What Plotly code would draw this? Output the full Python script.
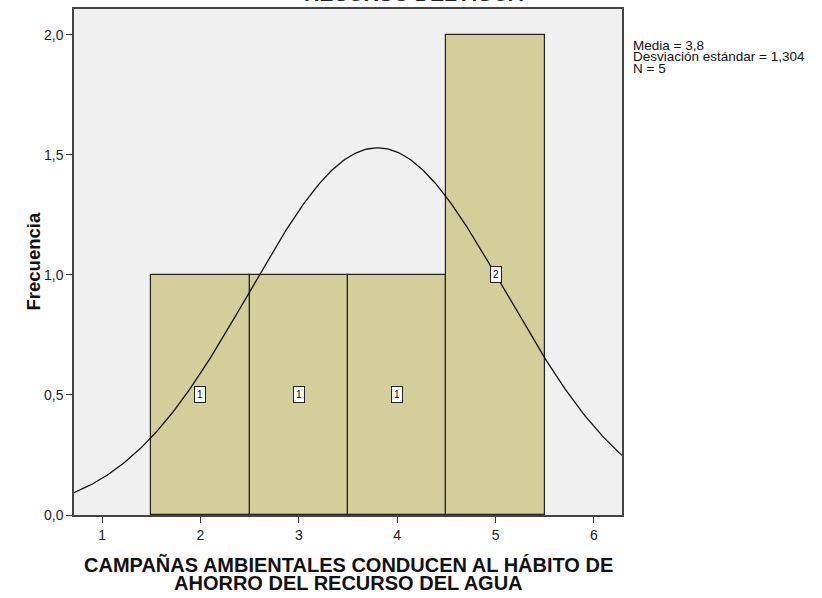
import numpy as np
import plotly.graph_objects as go

# Histogram data (SPSS output)
valores = [2, 3, 4, 5]
frecuencias = [1, 1, 1, 2]
media = 3.8
desviacion = 1.304
n = 5

x_ticks = [1, 2, 3, 4, 5, 6]
y_ticks = [0.0, 0.5, 1.0, 1.5, 2.0]

fig = go.Figure()

fig.add_trace(go.Bar(
    x=valores,
    y=frecuencias,
    width=1,
    marker=dict(color='#D4CF9A', line=dict(color='#222222', width=1.2)),
    showlegend=False,
))

# Normal curve fitted with the reported mean / sd, scaled to N * bin width
xc = np.linspace(0.715, 6.285, 300)
yc = n * 1.0 / (desviacion * np.sqrt(2 * np.pi)) * np.exp(-0.5 * ((xc - media) / desviacion) ** 2)
fig.add_trace(go.Scatter(
    x=xc, y=yc, mode='lines',
    line=dict(color='#111111', width=1.3),
    showlegend=False,
))

# Count labels in the middle of each bar
for v, f in zip(valores, frecuencias):
    fig.add_annotation(
        x=v, y=f / 2, text=str(f), showarrow=False,
        font=dict(family='Arial', size=10, color='black'),
        bgcolor='white', bordercolor='#222222', borderwidth=1, borderpad=2,
    )

# Cut-off title at the very top
fig.add_annotation(
    x=0.619, xref='paper', y=1.0316, yref='paper', yanchor='middle',
    text='<b>RECURSO DEL AGUA</b>', showarrow=False,
    font=dict(family='Arial', size=21, color='#222222'),
)

# Stats box text
stats = ['Media = 3,8', 'Desviación estándar = 1,304', f'N = {n}']
for i, s in enumerate(stats):
    fig.add_annotation(
        x=1.0165, xref='paper', y=(515 - 45 - 11.5 * i) / 506, yref='paper',
        showarrow=False, xanchor='left', yanchor='middle', text=s,
        font=dict(family='Arial', size=13.5, color='#111111'),
    )

# Axis titles (manual, to control line spacing)
fig.add_annotation(
    x=0.5, xref='paper', y=(515 - 565) / 506, yref='paper', yanchor='middle',
    showarrow=False, text='<b>CAMPAÑAS AMBIENTALES CONDUCEN AL HÁBITO DE</b>',
    font=dict(family='Arial', size=20, color='#111111'),
)
fig.add_annotation(
    x=0.5, xref='paper', y=(515 - 583) / 506, yref='paper', yanchor='middle',
    showarrow=False, text='<b>AHORRO DEL RECURSO DEL AGUA</b>',
    font=dict(family='Arial', size=20, color='#111111'),
)
fig.add_annotation(
    x=(20 - 74) / 548, xref='paper', y=0.5, yref='paper', textangle=-90,
    showarrow=False, text='<b>Frecuencia</b>',
    font=dict(family='Arial', size=18.5, color='#111111'),
)

fig.update_layout(
    width=822, height=598,
    margin=dict(l=74, r=200, t=9, b=83, autoexpand=False),
    paper_bgcolor='white',
    plot_bgcolor='#F0F0F0',
    separators=',.',
    font=dict(family='Arial', color='#222222'),
    bargap=0,
    xaxis=dict(
        range=[0.715, 6.285], tickvals=x_ticks, ticks='outside', ticklen=6,
        tickcolor='#333333', tickfont=dict(size=14),
        showgrid=False, zeroline=False, showline=True, linecolor='#444444',
        linewidth=1.5, mirror=True,
    ),
    yaxis=dict(
        range=[0, 2.108], tickvals=y_ticks, tickformat='.1f', ticks='outside',
        ticklen=6, tickcolor='#333333', tickfont=dict(size=14),
        showgrid=False, zeroline=False, showline=True, linecolor='#444444',
        linewidth=1.5, mirror=True,
    ),
)

fig.write_html("out.html", config={'displayModeBar': False},
               post_script="document.body.style.margin='0';")
